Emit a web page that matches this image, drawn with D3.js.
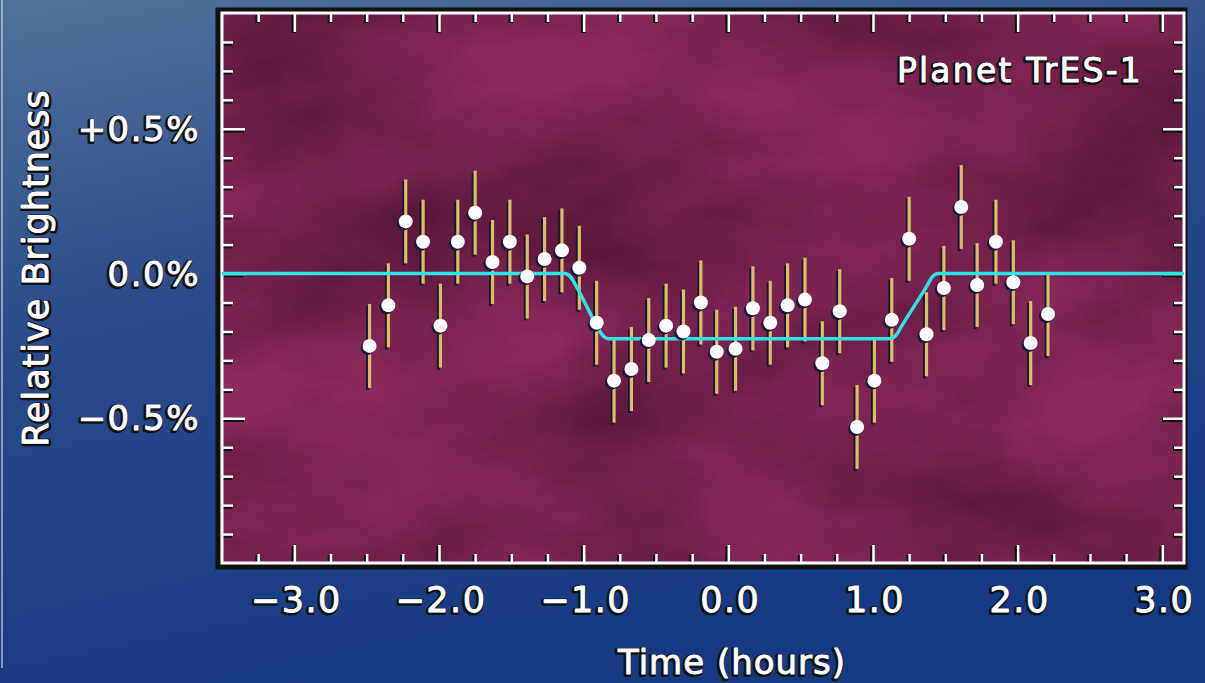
<!DOCTYPE html>
<html>
<head>
<meta charset="utf-8">
<script src="https://cdn.jsdelivr.net/npm/d3@7"></script>
<style>
  body { margin: 0; overflow: hidden; background: #1a3c84; }
  svg text { font-family: "DejaVu Sans", sans-serif; stroke-linejoin: round; }
  svg text.back { fill: #111; stroke: #111; stroke-width: 4px; }
  svg text.front { fill: #fff; stroke: #fff; stroke-width: 0.9px; }
</style>
</head>
<body>
<div id="chart"></div>
<script>
// data
var timeHours = [-2.48,-2.35,-2.23,-2.11,-1.99,-1.87,-1.75,-1.63,-1.51,-1.39,
                 -1.27,-1.15,-1.03,-0.91,-0.79,-0.67,-0.55,-0.43,-0.31,-0.19,
                 -0.08,0.05,0.17,0.29,0.41,0.53,0.65,0.77,0.89,1.01,
                 1.13,1.25,1.37,1.49,1.61,1.72,1.85,1.97,2.09,2.21];
var brightness = [-0.25,-0.11,0.18,0.11,-0.18,0.11,0.21,0.04,0.11,-0.01,
                  0.05,0.08,0.02,-0.17,-0.37,-0.33,-0.23,-0.18,-0.20,-0.10,
                  -0.27,-0.26,-0.12,-0.17,-0.11,-0.09,-0.31,-0.13,-0.53,-0.37,
                  -0.16,0.12,-0.21,-0.05,0.23,-0.04,0.11,-0.03,-0.24,-0.14];
var errBar = [0.145,0.145,0.145,0.145,0.145,0.145,0.145,0.145,0.145,0.145,
              0.145,0.145,0.145,0.145,0.145,0.145,0.145,0.145,0.145,0.145,
              0.145,0.145,0.145,0.145,0.145,0.145,0.145,0.145,0.145,0.145,
              0.145,0.145,0.145,0.145,0.145,0.145,0.145,0.145,0.145,0.145];

// transit model curve
var modelTime = [-3.5,-1.13,-1.09,-1.05,-0.91,-0.87,-0.83,1.12,1.16,1.20,1.37,1.41,1.45,3.15];
var modelFlux = [0,0,-0.012,-0.045,-0.18,-0.213,-0.225,-0.225,-0.213,-0.18,-0.045,-0.012,0,0];

var xTickValues = [-3,-2,-1,0,1,2,3];
var xTickLabels = ["\u22123.0","\u22122.0","\u22121.0","0.0","1.0","2.0","3.0"];
var xMinorTicks = [-3.25,-3,-2.75,-2.5,-2.25,-2,-1.75,-1.5,-1.25,-1,-0.75,-0.5,-0.25,0,0.25,0.5,0.75,1,1.25,1.5,1.75,2,2.25,2.5,2.75,3];
var yTickValues = [-0.5,0,0.5];
var yTickLabels = ["\u22120.5%","0.0%","+0.5%"];
var yMinorTicks = [-0.9,-0.8,-0.7,-0.6,-0.5,-0.4,-0.3,-0.2,-0.1,0,0.1,0.2,0.3,0.4,0.5,0.6,0.7,0.8];
var chartTitle = "Planet TrES-1";
var xTitle = "Time (hours)";
var yTitle = "Relative Brightness";

var W = 1205, H = 683;
var margin = {top: 13, right: 21, bottom: 120, left: 222};
var width = W - margin.left - margin.right,
    height = H - margin.top - margin.bottom;

var svg = d3.select("#chart").append("svg")
  .attr("width", W).attr("height", H);

var defs = svg.append("defs");
var bg = defs.append("linearGradient").attr("id", "bgGrad")
  .attr("x1", 0).attr("y1", 0).attr("x2", 0.35).attr("y2", 1);
bg.append("stop").attr("offset", 0).attr("stop-color", "#52709a");
bg.append("stop").attr("offset", 0.45).attr("stop-color", "#2a4a8b");
bg.append("stop").attr("offset", 1).attr("stop-color", "#163984");

var clouds = defs.append("filter").attr("id", "clouds")
  .attr("color-interpolation-filters", "sRGB")
  .attr("x", 0).attr("y", 0).attr("width", "100%").attr("height", "100%");
clouds.append("feTurbulence").attr("type", "fractalNoise")
  .attr("baseFrequency", "0.004 0.007").attr("numOctaves", 5).attr("seed", 11);
clouds.append("feColorMatrix").attr("type", "matrix")
  .attr("values", "0 0 0 0 0.2  0 0 0 0 0.03  0 0 0 0 0.12  1.0 0 0 0 -0.25");

svg.append("rect").attr("width", W).attr("height", H).attr("fill", "url(#bgGrad)");
// faint edge line at far left
svg.append("line").attr("x1", 2).attr("x2", 2).attr("y1", 0).attr("y2", 668)
  .attr("stroke", "#c8d0e0").attr("stroke-width", 1.5).attr("opacity", 0.8);

var g = svg.append("g")
  .attr("transform", "translate(" + margin.left + "," + margin.top + ")");

var x = d3.scaleLinear().domain([-3.5, 3.15]).range([0, width]);
var y = d3.scaleLinear().domain([-1.0, 0.9]).range([height, 0]);

// plot panel
g.append("rect").attr("x", -4).attr("y", -3).attr("width", width + 5).attr("height", height + 7)
  .attr("fill", "none").attr("stroke", "#111").attr("stroke-width", 5);
g.append("rect").attr("width", width).attr("height", height).attr("fill", "#8e2a5e");
g.append("rect").attr("width", width).attr("height", height).attr("filter", "url(#clouds)");

// ticks: dark shadow then white
function tickSet(axis, tx, ty) {
  ["#111", "#fff"].forEach(function(c, k) {
    var a = g.append("g")
      .attr("transform", "translate(" + (tx + (k ? 0 : -1)) + "," + (ty + (k ? 0 : 1)) + ")")
      .call(axis);
    a.select(".domain").remove();
    a.selectAll("text").remove();
    a.selectAll("line").attr("stroke", c).attr("stroke-width", k ? 2.5 : 4.5);
  });
}
var noLab = function() { return ""; };
tickSet(d3.axisTop(x).tickValues(xMinorTicks).tickSize(9).tickFormat(noLab), 0, height);
tickSet(d3.axisTop(x).tickValues(xTickValues).tickSize(18).tickFormat(noLab), 0, height);
tickSet(d3.axisBottom(x).tickValues(xMinorTicks).tickSize(9).tickFormat(noLab), 0, 0);
tickSet(d3.axisBottom(x).tickValues(xTickValues).tickSize(19).tickFormat(noLab), 0, 0);
tickSet(d3.axisRight(y).tickValues(yMinorTicks).tickSize(11).tickFormat(noLab), 0, 0);
tickSet(d3.axisRight(y).tickValues(yTickValues).tickSize(23).tickFormat(noLab), 0, 0);
tickSet(d3.axisLeft(y).tickValues(yMinorTicks).tickSize(10).tickFormat(noLab), width, 0);
tickSet(d3.axisLeft(y).tickValues(yTickValues).tickSize(21).tickFormat(noLab), width, 0);

// white frame
g.append("rect").attr("width", width).attr("height", height)
  .attr("fill", "none").attr("stroke", "#fff").attr("stroke-width", 3);

// error bars
var bars = g.append("g");
bars.selectAll(".errShadow").data(timeHours).enter().append("line")
  .attr("x1", function(d) { return x(d) - 2; }).attr("x2", function(d) { return x(d) - 2; })
  .attr("y1", function(d, i) { return y(brightness[i] + errBar[i]) + 2; })
  .attr("y2", function(d, i) { return y(brightness[i] - errBar[i]) + 2; })
  .attr("stroke", "#1a1530").attr("stroke-width", 3);
bars.selectAll(".err").data(timeHours).enter().append("line")
  .attr("x1", function(d) { return x(d); }).attr("x2", function(d) { return x(d); })
  .attr("y1", function(d, i) { return y(brightness[i] + errBar[i]); })
  .attr("y2", function(d, i) { return y(brightness[i] - errBar[i]); })
  .attr("stroke", "#dcbb68").attr("stroke-width", 3.2);

// model curve
var line = d3.line()
  .x(function(d) { return x(d); })
  .y(function(d, i) { return y(modelFlux[i]); })
  .curve(d3.curveMonotoneX);
g.append("path").datum(modelTime).attr("d", line)
  .attr("fill", "none").attr("stroke", "#2fe3e3").attr("stroke-width", 3.5);

// points
g.selectAll(".ptShadow").data(timeHours).enter().append("circle")
  .attr("cx", function(d) { return x(d) - 2; })
  .attr("cy", function(d, i) { return y(brightness[i]) + 2; })
  .attr("r", 7).attr("fill", "#1a1a3a");
g.selectAll(".pt").data(timeHours).enter().append("circle")
  .attr("cx", function(d) { return x(d); })
  .attr("cy", function(d, i) { return y(brightness[i]); })
  .attr("r", 7).attr("fill", "#fbfbfb");

// outlined white text, drawn twice (dark outline behind)
function label(parent, txt, attrs, size, spacing) {
  ["back", "front"].forEach(function(cls) {
    var t = parent.append("text").attr("class", cls)
      .style("font-size", size + "px").style("letter-spacing", spacing + "px")
      .text(txt);
    Object.keys(attrs).forEach(function(k) { t.attr(k, attrs[k]); });
    if (cls == "back") t.attr("dx", -1).attr("dy", 1);
  });
}

xTickValues.forEach(function(d, i) {
  label(g, xTickLabels[i], {x: x(d) + 2, y: height + 49, "text-anchor": "middle"}, 35, 1.5);
});
yTickValues.forEach(function(d, i) {
  label(g, yTickLabels[i], {x: -22, y: y(d) + 12, "text-anchor": "end"}, 34, 1.5);
});

// titles
label(g, chartTitle, {x: width - 41, y: 69, "text-anchor": "end"}, 33, 2.2);
label(svg, xTitle, {x: 732, y: 674, "text-anchor": "middle"}, 34, 1);
label(svg, yTitle, {transform: "translate(48,268) rotate(-90)", "text-anchor": "middle"}, 35, 1);
</script>
</body>
</html>
